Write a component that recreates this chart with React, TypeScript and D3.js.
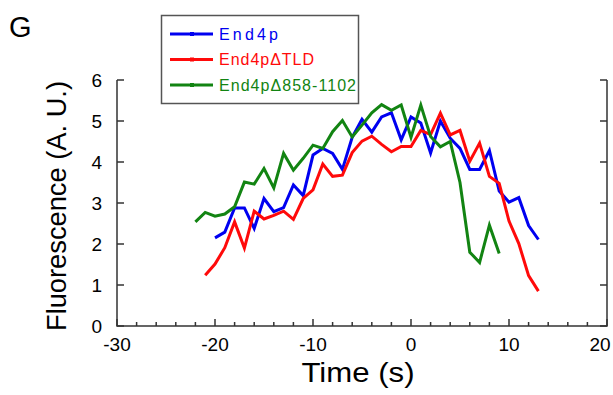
import * as d3 from "d3";

// time (s) and fluorescence (A. U.)
const end4pTime = [-20, -19, -18, -17, -16, -15, -14, -13, -12, -11, -10, -9, -8, -7, -6, -5, -4, -3, -2, -1, 0, 1, 2, 3, 4, 5, 6, 7, 8, 9, 10, 11, 12, 13];
const end4pValues = [2.15, 2.29, 2.88, 2.88, 2.38, 3.11, 2.79, 2.89, 3.44, 3.18, 4.17, 4.33, 4.21, 3.82, 4.6, 5.04, 4.73, 5.1, 5.2, 4.54, 5.1, 4.95, 4.22, 5.0, 4.58, 4.33, 3.82, 3.82, 4.28, 3.29, 3.02, 3.13, 2.45, 2.11];

const tldTime = [-21, -20, -19, -18, -17, -16, -15, -14, -13, -12, -11, -10, -9, -8, -7, -6, -5, -4, -3, -2, -1, 0, 1, 2, 3, 4, 5, 6, 7, 8, 9, 10, 11, 12, 13];
const tldValues = [1.24, 1.51, 1.91, 2.54, 1.9, 2.8, 2.61, 2.7, 2.8, 2.6, 3.11, 3.32, 3.95, 3.65, 3.68, 4.23, 4.51, 4.63, 4.43, 4.25, 4.38, 4.38, 4.77, 4.67, 5.19, 4.66, 4.77, 4.02, 4.46, 3.65, 3.48, 2.56, 2.01, 1.23, 0.85];

const delTime = [-22, -21, -20, -19, -18, -17, -16, -15, -14, -13, -12, -11, -10, -9, -8, -7, -6, -5, -4, -3, -2, -1, 0, 1, 2, 3, 4, 5, 6, 7, 8, 9];
const delValues = [2.54, 2.77, 2.68, 2.73, 2.91, 3.51, 3.46, 3.84, 3.37, 4.21, 3.8, 4.09, 4.41, 4.33, 4.74, 5.01, 4.61, 4.9, 5.2, 5.4, 5.26, 5.39, 4.6, 5.39, 4.62, 4.37, 4.5, 3.5, 1.8, 1.55, 2.46, 1.77];

const seriesNames = ["End4p", "End4p\u0394TLD", "End4p\u0394858-1102"];
const seriesColors = ["#0000f0", "#ff0a0a", "#128412"];
const legendWidths = [59, 95, 137]; // the legend text is a bit stretched
const xTicks = [-30, -20, -10, 0, 10, 20];
const yTicks = [0, 1, 2, 3, 4, 5, 6];

const W = 613;
const H = 395;
const axisColor = "#333";
const font = "'Liberation Sans', Arial, sans-serif";

export default function App() {
  const x = d3.scaleLinear().domain([-30, 20]).range([117, 607]);
  const y = d3.scaleLinear().domain([0, 6]).range([326, 80]);

  const line = d3
    .line<[number, number]>()
    .x((d) => x(d[0]))
    .y((d) => y(d[1]));

  const series = [
    d3.zip(end4pTime, end4pValues) as [number, number][],
    d3.zip(tldTime, tldValues) as [number, number][],
    d3.zip(delTime, delValues) as [number, number][],
  ];

  const minorX = d3.range(-30, 20.01, 2).filter((t) => t % 10 !== 0);

  return (
    <svg
      width={W}
      height={H}
      style={{ position: "absolute", left: 0, top: 0, background: "#fff" }}
      fontFamily={font}
    >
      <text x={9} y={37} fontSize={29}>G</text>

      {/* data lines */}
      {series.map((s, i) => (
        <path
          key={i}
          d={line(s) || ""}
          fill="none"
          stroke={seriesColors[i]}
          strokeWidth={3}
        />
      ))}

      {/* axes: left, bottom, right (no top) */}
      <path
        d={`M${x(-30)},${y(6)}V${y(0)}H${x(20)}V${y(6)}`}
        fill="none"
        stroke={axisColor}
        strokeWidth={1.5}
      />
      {yTicks.map((v) => (
        <g key={"y" + v}>
          <line x1={x(-30)} x2={x(-30) + 7} y1={y(v)} y2={y(v)} stroke={axisColor} strokeWidth={1.5} />
          <line x1={x(20)} x2={x(20) - 7} y1={y(v)} y2={y(v)} stroke={axisColor} strokeWidth={1.5} />
          <text x={x(-30) - 15} y={y(v)} dy="0.36em" textAnchor="end" fontSize={19}>
            {v}
          </text>
        </g>
      ))}
      {xTicks.map((t) => (
        <g key={"x" + t}>
          <line x1={x(t)} x2={x(t)} y1={y(0)} y2={y(0) - 7} stroke={axisColor} strokeWidth={1.5} />
          <text x={t === 20 ? x(t) - 7 : x(t)} y={y(0) + 25} textAnchor="middle" fontSize={19}>
            {t}
          </text>
        </g>
      ))}
      {minorX.map((t) => (
        <line key={"m" + t} x1={x(t)} x2={x(t)} y1={y(0)} y2={y(0) - 4} stroke={axisColor} strokeWidth={1.5} />
      ))}

      <text x={358} y={382} textAnchor="middle" fontSize={28} textLength={113} lengthAdjust="spacingAndGlyphs">
        Time (s)
      </text>
      <text
        transform={`translate(66,${(y(0) + y(6)) / 2 + 3}) rotate(-90)`}
        textAnchor="middle"
        fontSize={27}
        textLength={250}
        lengthAdjust="spacingAndGlyphs"
      >
        Fluorescence (A. U.)
      </text>

      {/* legend */}
      <rect x={161.5} y={15.5} width={197} height={88} fill="#fff" stroke="#555" strokeWidth={1.5} />
      {seriesNames.map((name, i) => {
        const ly = 34 + i * 25.5;
        return (
          <g key={name}>
            <line x1={170} x2={213} y1={ly} y2={ly} stroke={seriesColors[i]} strokeWidth={3} />
            <rect x={190} y={ly - 2} width={4} height={4} fill={seriesColors[i]} />
            <text
              x={219}
              y={ly}
              dy="0.36em"
              fontSize={16}
              fill={seriesColors[i]}
              textLength={legendWidths[i]}
              lengthAdjust="spacing"
            >
              {name}
            </text>
          </g>
        );
      })}
    </svg>
  );
}
